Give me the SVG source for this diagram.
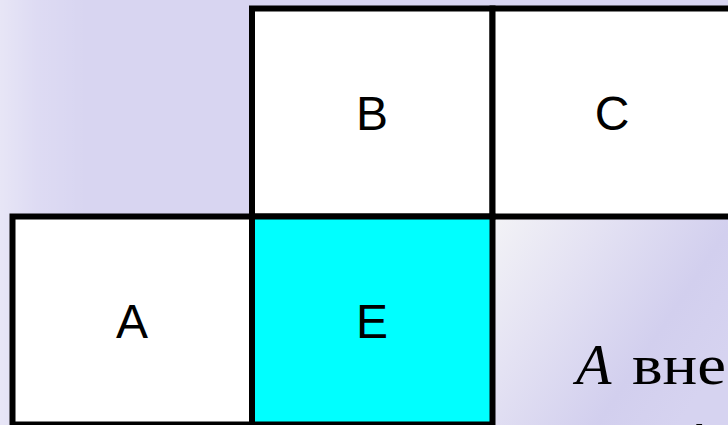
<svg xmlns="http://www.w3.org/2000/svg" width="728" height="425" viewBox="0 0 728 425">
<defs>
<linearGradient id="bgl" x1="0" y1="0" x2="1" y2="0">
<stop offset="0" stop-color="#ffffff" stop-opacity="0.4"/>
<stop offset="0.05" stop-color="#ffffff" stop-opacity="0.15"/>
<stop offset="0.12" stop-color="#ffffff" stop-opacity="0"/>
</linearGradient>
<linearGradient id="br" x1="0" y1="0" x2="1" y2="0.6">
<stop offset="0" stop-color="#f3f3f6"/>
<stop offset="0.35" stop-color="#e4e2f3"/>
<stop offset="0.75" stop-color="#d2cfee"/>
<stop offset="1" stop-color="#d6d3f0"/>
</linearGradient>
<style>
.cell{stroke:#000;stroke-width:6;}
.lbl{font-family:"Liberation Sans",Arial,sans-serif;font-size:48px;fill:#000;text-anchor:middle;}
.math{font-family:"Liberation Serif","Times New Roman",serif;font-size:58px;fill:#000;}
</style>
</defs>
<rect x="0" y="0" width="728" height="425" fill="#d8d5f1"/>
<rect x="0" y="0" width="728" height="425" fill="url(#bgl)"/>
<rect x="492" y="216" width="240" height="215" fill="url(#br)"/>
<g id="node-B"><rect class="cell" x="252" y="8.5" width="240.5" height="208" fill="#ffffff"/><text class="lbl" x="372" y="130">B</text></g>
<g id="node-C"><rect class="cell" x="492.5" y="8.5" width="240" height="208" fill="#ffffff"/><text class="lbl" x="612" y="130">C</text></g>
<g id="node-A"><rect class="cell" x="12.5" y="216.5" width="239.5" height="208" fill="#ffffff"/><text class="lbl" x="132" y="338">A</text></g>
<g id="node-E"><rect class="cell" x="252" y="216.5" width="240.5" height="208" fill="#00ffff"/><text class="lbl" x="372" y="338">E</text></g>
<g id="connectors"></g>
<text class="math" x="576" y="384"><tspan font-style="italic">A</tspan><tspan x="632" textLength="94" lengthAdjust="spacingAndGlyphs">вне</tspan></text>
<text class="math" x="677" y="462" font-style="italic">A</text>
</svg>
